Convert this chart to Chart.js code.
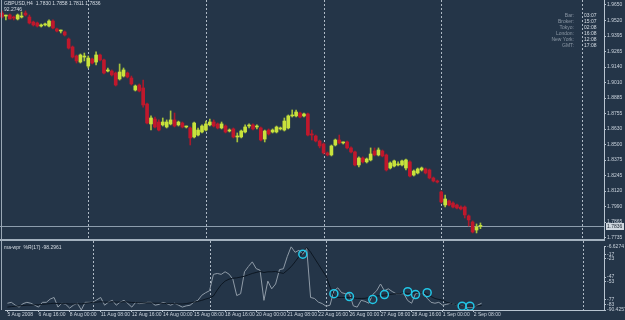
<!DOCTYPE html>
<html><head><meta charset="utf-8">
<script src="https://cdn.jsdelivr.net/npm/chart.js@4/dist/chart.umd.min.js"></script>
<style>
html,body{margin:0;padding:0;background:#243548;width:625px;height:320px;overflow:hidden}
#c1{position:absolute;left:0;top:0}
#c2{position:absolute;left:0;top:241px}
</style></head><body>
<canvas id="c1" width="625" height="241"></canvas>
<canvas id="c2" width="625" height="79"></canvas>
<script>
const symbolTitle = 'GBPUSD,H4  1.7830 1.7858 1.7811 1.7836';
const subTitle = '92.2746';
const indTitle = 'ma-wpr  %R(17) -98.2961';

const opens = [1.9584,1.9559,1.9568,1.9551,1.9535,1.9551,1.9584,1.9551,1.9510,1.9502,
1.9477,1.9486,1.9477,1.9518,1.9453,1.9436,1.9428,1.9370,1.9305,1.9231,
1.9181,1.9222,1.9148,1.9206,1.9181,1.9239,1.9198,1.9107,1.9107,1.9091,
1.9042,1.9066,1.9091,1.9050,1.8951,1.8992,1.8968,1.8836,1.8672,1.8713,
1.8688,1.8664,1.8647,1.8672,1.8705,1.8664,1.8680,1.8647,1.8639,1.8565,
1.8581,1.8606,1.8622,1.8664,1.8688,1.8672,1.8639,1.8655,1.8614,1.8631,
1.8565,1.8565,1.8606,1.8655,1.8664,1.8647,1.8639,1.8548,1.8622,1.8606,
1.8606,1.8631,1.8622,1.8639,1.8738,1.8738,1.8762,1.8738,1.8754,1.8590,
1.8573,1.8532,1.8507,1.8434,1.8417,1.8499,1.8540,1.8516,1.8524,1.8475,
1.8442,1.8335,1.8392,1.8360,1.8376,1.8450,1.8417,1.8450,1.8417,1.8310,
1.8326,1.8335,1.8335,1.8310,1.8360,1.8252,1.8269,1.8294,1.8302,1.8294,
1.8228,1.8203,1.8113,1.8006,1.8039,1.8022,1.8006,1.7989,1.7989,1.7916,
1.7866,1.7800,1.7830];
const highs = [1.9601,1.9568,1.9576,1.9559,1.9576,1.9592,1.9601,1.9568,1.9518,1.9510,
1.9494,1.9502,1.9527,1.9527,1.9461,1.9444,1.9436,1.9379,1.9313,1.9239,
1.9247,1.9255,1.9231,1.9214,1.9264,1.9247,1.9206,1.9132,1.9116,1.9099,
1.9165,1.9132,1.9099,1.9066,1.8992,1.9001,1.9033,1.8844,1.8738,1.8729,
1.8705,1.8721,1.8705,1.8779,1.8762,1.8696,1.8688,1.8655,1.8647,1.8688,
1.8639,1.8664,1.8696,1.8713,1.8705,1.8680,1.8688,1.8664,1.8631,1.8639,
1.8598,1.8622,1.8664,1.8672,1.8672,1.8664,1.8647,1.8622,1.8631,1.8631,
1.8655,1.8647,1.8721,1.8746,1.8787,1.8787,1.8770,1.8762,1.8762,1.8622,
1.8581,1.8540,1.8516,1.8442,1.8499,1.8548,1.8581,1.8524,1.8532,1.8483,
1.8450,1.8401,1.8401,1.8392,1.8475,1.8475,1.8475,1.8458,1.8425,1.8360,
1.8376,1.8360,1.8376,1.8384,1.8368,1.8294,1.8310,1.8318,1.8310,1.8302,
1.8236,1.8211,1.8121,1.8088,1.8047,1.8031,1.8014,1.7998,1.7998,1.7924,
1.7875,1.7850,1.7858];
const lows = [1.9543,1.9527,1.9535,1.9527,1.9527,1.9543,1.9559,1.9494,1.9477,1.9469,
1.9469,1.9477,1.9469,1.9453,1.9428,1.9420,1.9395,1.9288,1.9214,1.9173,
1.9173,1.9190,1.9132,1.9165,1.9157,1.9190,1.9083,1.9099,1.9066,1.8984,
1.9033,1.9058,1.9050,1.8992,1.8943,1.8935,1.8811,1.8672,1.8622,1.8639,
1.8614,1.8655,1.8639,1.8664,1.8647,1.8655,1.8639,1.8639,1.8499,1.8557,
1.8573,1.8598,1.8614,1.8655,1.8647,1.8631,1.8631,1.8598,1.8606,1.8557,
1.8524,1.8557,1.8598,1.8639,1.8622,1.8631,1.8532,1.8524,1.8581,1.8598,
1.8598,1.8622,1.8614,1.8631,1.8729,1.8729,1.8721,1.8729,1.8573,1.8540,
1.8524,1.8475,1.8425,1.8409,1.8409,1.8491,1.8507,1.8507,1.8466,1.8434,
1.8326,1.8318,1.8351,1.8351,1.8368,1.8409,1.8409,1.8401,1.8285,1.8302,
1.8318,1.8326,1.8326,1.8294,1.8236,1.8244,1.8261,1.8285,1.8261,1.8220,
1.8195,1.8187,1.8022,1.7989,1.7998,1.7981,1.7973,1.7965,1.7899,1.7833,
1.7776,1.7776,1.7811];
const closes = [1.9551,1.9559,1.9535,1.9543,1.9568,1.9559,1.9568,1.9502,1.9486,1.9477,
1.9486,1.9494,1.9518,1.9461,1.9436,1.9436,1.9403,1.9296,1.9222,1.9190,
1.9239,1.9222,1.9214,1.9173,1.9239,1.9198,1.9091,1.9116,1.9075,1.8992,
1.9099,1.9116,1.9058,1.9001,1.8984,1.8943,1.8828,1.8680,1.8721,1.8647,
1.8622,1.8688,1.8688,1.8705,1.8655,1.8688,1.8647,1.8647,1.8557,1.8680,
1.8622,1.8655,1.8672,1.8688,1.8655,1.8639,1.8672,1.8606,1.8622,1.8565,
1.8573,1.8614,1.8647,1.8655,1.8631,1.8647,1.8540,1.8614,1.8590,1.8622,
1.8647,1.8639,1.8696,1.8738,1.8746,1.8770,1.8729,1.8754,1.8581,1.8581,
1.8532,1.8491,1.8434,1.8417,1.8491,1.8540,1.8516,1.8516,1.8475,1.8442,
1.8335,1.8392,1.8360,1.8384,1.8425,1.8417,1.8458,1.8409,1.8294,1.8351,
1.8368,1.8335,1.8368,1.8376,1.8244,1.8285,1.8302,1.8310,1.8269,1.8228,
1.8203,1.8195,1.8031,1.8055,1.8006,1.7989,1.7981,1.7973,1.7924,1.7883,
1.7784,1.7825,1.7836];

const wpr = [-81.5,-80.3,-84,-86.6,-82,-80.3,-81.5,-84,-86.6,-80.3,
-80.3,-76,-73.9,-86.6,-81.5,-83,-87.9,-84,-81.5,-90.4,
-80.3,-80.3,-80.3,-77,-73.9,-84.1,-80,-77.7,-84.1,-80,
-77.7,-82,-86.6,-80.3,-82,-81.5,-80.3,-80.3,-84.1,-83,
-80.3,-82,-84.1,-81.5,-84,-86.6,-85,-84.1,-80,-77.7,
-71,-67.6,-65,-43.4,-42.2,-43.4,-40,-43,-49.8,-71.4,
-68.9,-40,-33,-26.9,-35.8,-38,-77.7,-52.3,-62.5,-56.1,
-37.1,-36,-20,-6.9,-14.3,-11.7,-16.8,-8.5,-73.9,-75.2,
-80,-82,-85.4,-84.1,-65,-61.2,-67.6,-68.9,-68.9,-85,
-86.6,-77.7,-79,-81.5,-70,-65,-56.1,-65,-62.5,-66,
-68.9,-68.9,-68.9,-78,-81.5,-68.9,-67.6,-67.6,-75,-80.3,
-81.5,-80.3,-84.1,-83,-81.5,-83,-84.1,-85,-86.6,-86.6,
-86.6,-84,-81.5];
const wprMa = [-86.6,-86,-85.5,-85,-84.5,-84,-84,-83.5,-83.5,-83,
-82.5,-82,-81.5,-82,-82,-82,-82.5,-82.5,-82,-82.5,
-81.5,-81,-80.3,-80,-79.5,-80,-80,-79.5,-80,-80,
-79.5,-80,-80.5,-80.5,-81,-81,-81,-81,-81.5,-81.5,
-81.5,-82,-82,-82,-82.5,-82.5,-82,-81,-80,-79,
-77.7,-76,-74.5,-72,-64,-57,-52.3,-49.8,-48.5,-48,
-47,-45.9,-44,-42.2,-40.9,-39.6,-41,-40,-40,-39.6,
-41,-42.2,-38,-33.3,-26.9,-20,-14.3,-7.9,-14,-22,
-30,-38,-45.9,-60,-71.4,-73.9,-73.9,-73.9,-73.9,-74.5,
-75.2,-75.2,-75,-73.9,-72.7,-72,-71.4,-70.8,-70.1,-69.5,
-68.9,-68.9,-67.6,-68.9,-68.9,-67.6,-67.6,-67.6,-70,-72.7,
-75.2,-76.5,-77.7,-80.3,-81.5,-83,-84.1,-85.4,-85.4,-85.4,
-85.4,-85,-84.5];
const signalIdx = [76,84,88,94,97,103,105,108,117,119];
const signalVal = [-16.8,-68.9,-72.7,-76.5,-70.1,-66.3,-70.1,-67.6,-85.4,-85.4];

const priceTicks = [1.9650,1.9520,1.9395,1.9265,1.9140,1.9010,1.8885,1.8755,1.8630,1.8500,1.8375,1.8245,1.8120,1.7990,1.7865,1.7735];
const wprTicks = [-6.6274,-17,-23,-47,-53,-77,-83,-90.4257];
const timeTickIdx = [0,8,16,24,32,40,48,56,64,72,80,88,96,104,112,120];
const timeTickText = ['5 Aug 2008','6 Aug 16:00','8 Aug 00:00','11 Aug 08:00','12 Aug 16:00','14 Aug 00:00','15 Aug 08:00','18 Aug 16:00','20 Aug 00:00','21 Aug 08:00','22 Aug 16:00','26 Aug 00:00','27 Aug 08:00','28 Aug 16:00','1 Sep 00:00','2 Sep 08:00'];
const separatorIdx = [22,52,82,112,148];
const clockNames = ['Bar:','Broker:','Tokyo:','London:','New York:','GMT:'];
const clockTimes = ['03:07','15:07','02:08','16:08','12:08','17:08'];
const TOTAL_SLOTS = 154;

const FONT = 'Liberation Sans';
const TXT = '#c9d2dc';
const BULL = '#c8e23c', BEAR = '#c0182c';
const BULL_W = '#a8c43a', BEAR_W = '#a81a2c';

const labels = Array.from({length: TOTAL_SLOTS}, (_, i) => {
  const k = timeTickIdx.indexOf(i); return k >= 0 ? timeTickText[k] : '';
});
const wicks = highs.map((h, i) => [lows[i], h]);
const bodies = opens.map((o, i) => [o, closes[i]]);
const bull = opens.map((o, i) => closes[i] >= o);
const signals = wpr.map((_, i) => { const k = signalIdx.indexOf(i); return k >= 0 ? signalVal[k] : null; });

function fitY(s) { s.width = 21; s.paddingTop = 0; s.paddingBottom = 0; }
function fitX(s) { s.height = 10; s.paddingLeft = 0; s.paddingRight = 0; }

function drawSeparators(chart, top, bottom) {
  const ctx = chart.ctx, xs = chart.scales.x;
  ctx.save();
  ctx.strokeStyle = '#aeb9c5'; ctx.lineWidth = 1; ctx.setLineDash([2, 2]);
  separatorIdx.forEach(i => {
    const x = Math.round(xs.getPixelForValue(i)) + 0.5;
    ctx.beginPath(); ctx.moveTo(x, top); ctx.lineTo(x, bottom); ctx.stroke();
  });
  ctx.restore();
}

const topOverlay = {
  id: 'topOverlay',
  beforeDatasetsDraw(chart) {
    const ctx = chart.ctx, ys = chart.scales.y, a = chart.chartArea;
    drawSeparators(chart, 0, 241);
    const last = closes[closes.length - 1];
    const y = Math.round(ys.getPixelForValue(last)) + 0.5;
    ctx.save();
    ctx.strokeStyle = '#8d9dad'; ctx.lineWidth = 1;
    ctx.beginPath(); ctx.moveTo(0, y); ctx.lineTo(a.right, y); ctx.stroke();
    ctx.restore();
  },
  afterDraw(chart) {
    const ctx = chart.ctx, ys = chart.scales.y, a = chart.chartArea;
    ctx.save();
    ctx.fillStyle = '#9aa8b6'; ctx.fillRect(1, 0, 1, 241);
    ctx.fillStyle = '#a3b1be'; ctx.fillRect(0, 239, a.right + 1, 2);
    ctx.font = '5px "' + FONT + '"'; ctx.fillStyle = '#d6dde5'; ctx.textBaseline = 'middle'; ctx.textAlign = 'left';
    ctx.fillText(symbolTitle, 4, 4);
    ctx.fillText(subTitle, 4, 10);
    clockNames.forEach((n, i) => {
      const yy = 16 + i * 6;
      ctx.textAlign = 'right'; ctx.fillStyle = '#8b97a4'; ctx.fillText(n, 574, yy);
      ctx.textAlign = 'left'; ctx.fillStyle = '#d6dde5'; ctx.fillText(clockTimes[i], 584, yy);
    });
    const last = closes[closes.length - 1];
    const y = Math.round(ys.getPixelForValue(last));
    ctx.fillStyle = '#cfd7df'; ctx.fillRect(a.right + 2, y - 3, 18, 7);
    ctx.fillStyle = '#17222e'; ctx.textAlign = 'left';
    ctx.fillText(last.toFixed(4), a.right + 3, y + 0.5);
    ctx.restore();
  }
};

const botOverlay = {
  id: 'botOverlay',
  beforeDatasetsDraw(chart) {
    drawSeparators(chart, 0, chart.chartArea.bottom);
  },
  afterDraw(chart) {
    const ctx = chart.ctx;
    ctx.save();
    ctx.fillStyle = '#9aa8b6'; ctx.fillRect(1, 0, 1, chart.chartArea.bottom);
    ctx.font = '5px "' + FONT + '"'; ctx.fillStyle = '#d6dde5'; ctx.textBaseline = 'middle'; ctx.textAlign = 'left';
    ctx.fillText(indTitle, 4, 7);
    ctx.restore();
  }
};

new Chart(document.getElementById('c1'), {
  type: 'bar',
  data: {
    labels,
    datasets: [
      { data: wicks, backgroundColor: bull.map(b => b ? BULL_W : BEAR_W), barThickness: 1, grouped: false, order: 2, borderWidth: 0 },
      { data: bodies, backgroundColor: bull.map(b => b ? BULL : BEAR), barThickness: 3, grouped: false, order: 1, minBarLength: 1, borderWidth: 0 }
    ]
  },
  options: {
    animation: false, responsive: false, events: [],
    layout: { padding: { left: 0, top: 0, right: 0, bottom: 1 } },
    plugins: { legend: { display: false }, tooltip: { enabled: false } },
    scales: {
      x: { display: false, offset: true },
      y: {
        position: 'right', min: 1.7718, max: 1.9691,
        afterBuildTicks: s => { s.ticks = priceTicks.map(v => ({ value: v })); },
        afterFit: fitY,
        grid: { drawOnChartArea: false, tickLength: 2, color: '#b8c4d0' },
        border: { color: '#b8c4d0' },
        ticks: { font: { family: FONT, size: 5 }, color: TXT, padding: 1, autoSkip: false, callback: v => Number(v).toFixed(4) }
      }
    }
  },
  plugins: [topOverlay]
});

new Chart(document.getElementById('c2'), {
  type: 'line',
  data: {
    labels,
    datasets: [
      { data: signals, showLine: false, pointRadius: 4, pointBorderColor: '#22c6e6', pointBackgroundColor: 'rgba(0,0,0,0)', pointBorderWidth: 1.5, order: 0 },
      { data: wprMa, borderColor: '#0d1722', borderWidth: 1, pointRadius: 0, tension: 0, order: 1 },
      { data: wpr, borderColor: '#8f9ba7', borderWidth: 1, pointRadius: 0, tension: 0, order: 2 }
    ]
  },
  options: {
    animation: false, responsive: false, events: [],
    layout: { padding: { left: 0, top: 3, right: 0, bottom: 0 } },
    plugins: { legend: { display: false }, tooltip: { enabled: false } },
    scales: {
      x: {
        offset: true,
        afterFit: fitX,
        grid: { drawOnChartArea: false, tickLength: 2, color: c => (c.tick && c.tick.label) ? '#b8c4d0' : 'rgba(0,0,0,0)' },
        border: { color: '#b8c4d0' },
        ticks: { autoSkip: false, maxRotation: 0, minRotation: 0, align: 'start', padding: 0, font: { family: FONT, size: 5 }, color: TXT, callback: (v, i) => labels[i] }
      },
      y: {
        position: 'right', min: -90.4257, max: -6.6274,
        afterBuildTicks: s => { s.ticks = wprTicks.map(v => ({ value: v })); },
        afterFit: fitY,
        grid: { drawOnChartArea: false, tickLength: 2, color: '#b8c4d0' },
        border: { color: '#b8c4d0' },
        ticks: { font: { family: FONT, size: 5 }, color: TXT, padding: 1, autoSkip: false,
          callback: v => (Number.isInteger(v) ? String(v) : Number(v).toFixed(4)) }
      }
    }
  },
  plugins: [botOverlay]
});
</script>
</body></html>
